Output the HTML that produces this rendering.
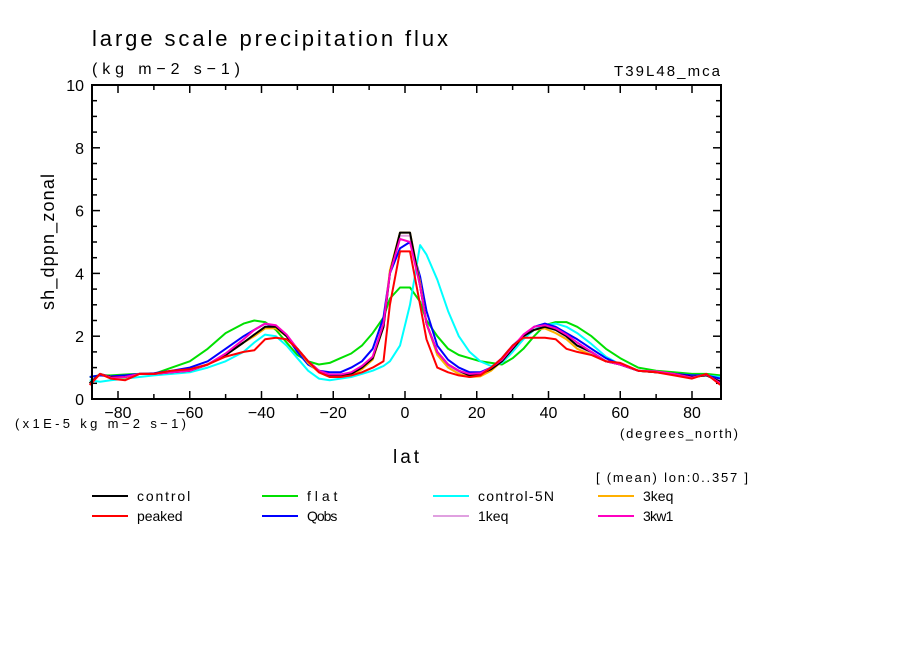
<!DOCTYPE html>
<html><head><meta charset="utf-8"><style>
body{margin:0;background:#fff;}
svg text{font-family:"Liberation Sans",sans-serif;fill:#000;}
</style></head><body>
<svg id="c" width="904" height="654" xmlns="http://www.w3.org/2000/svg">
<rect width="904" height="654" fill="#fff"/>
<text x="92" y="46" font-size="22" textLength="356" lengthAdjust="spacing">large scale precipitation flux</text>
<text x="92" y="74" font-size="16" textLength="148" lengthAdjust="spacing">(kg m−2 s−1)</text>
<text x="614" y="76" font-size="15" textLength="106" lengthAdjust="spacing">T39L48_mca</text>
<text x="15" y="428" font-size="13" textLength="171" lengthAdjust="spacing">(x1E-5 kg m−2 s−1)</text>
<text x="620" y="438" font-size="13" textLength="118" lengthAdjust="spacing">(degrees_north)</text>
<text x="393" y="463" font-size="19" textLength="26" lengthAdjust="spacing">lat</text>
<text transform="translate(54,242) rotate(-90)" font-size="18" text-anchor="middle" textLength="136" lengthAdjust="spacing">sh_dppn_zonal</text>
<text x="596" y="482" font-size="13" textLength="152" lengthAdjust="spacing">[ (mean) lon:0..357 ]</text>
<g id="axes"></g>
<g id="series"></g>
<g id="legend"></g>
<rect x="92" y="85" width="629" height="314" fill="none" stroke="#000" stroke-width="2"/>
</svg>
<script>
const lats=[-87.9,-85,-82,-78,-74,-70,-65,-60,-55,-50,-45,-42,-39,-36,-33,-30,-27,-24,-21,-18,-15,-12,-9,-6,-4.2,-1.4,1.4,4.2,6,9,12,15,18,21,24,27,30,33,36,39,42,45,48,52,56,60,65,70,75,80,84,87.9];
const seriesNames=["control","flat","control-5N","3keq","peaked","Qobs","1keq","3kw1"];
const seriesColors=["#000000","#00e000","#00ffff","#ffb000","#ff0000","#0000ff","#e0a0e0","#ff00c0"];
const control=[0.5,0.8,0.7,0.7,0.8,0.8,0.85,0.9,1.1,1.4,1.8,2.05,2.3,2.3,2.0,1.6,1.2,0.9,0.75,0.75,0.8,1.0,1.3,2.3,4.0,5.3,5.3,3.6,2.4,1.5,1.1,0.9,0.75,0.8,0.95,1.2,1.6,2.0,2.2,2.3,2.2,2.0,1.7,1.5,1.2,1.1,0.9,0.85,0.8,0.7,0.75,0.55];
const flat=[0.7,0.75,0.75,0.78,0.8,0.8,1.0,1.2,1.6,2.1,2.4,2.5,2.45,2.2,1.8,1.4,1.2,1.1,1.15,1.3,1.45,1.7,2.1,2.6,3.2,3.55,3.55,3.1,2.5,2.0,1.6,1.4,1.3,1.2,1.15,1.1,1.3,1.6,2.0,2.35,2.45,2.45,2.3,2.0,1.6,1.3,1.0,0.9,0.85,0.8,0.8,0.75];
const control5N=[0.6,0.55,0.6,0.65,0.7,0.75,0.8,0.85,1.0,1.2,1.5,1.8,2.05,2.0,1.7,1.3,0.9,0.65,0.6,0.65,0.7,0.8,0.9,1.05,1.2,1.7,3.0,4.9,4.6,3.8,2.8,2.0,1.5,1.2,1.05,1.15,1.5,1.9,2.2,2.35,2.4,2.3,2.1,1.75,1.35,1.1,0.9,0.85,0.8,0.75,0.75,0.7];
const keq3=[0.5,0.8,0.7,0.68,0.8,0.8,0.85,0.9,1.1,1.4,1.8,2.0,2.25,2.25,2.0,1.6,1.15,0.85,0.7,0.7,0.75,0.95,1.25,2.3,4.1,5.3,5.3,3.7,2.4,1.4,1.0,0.8,0.7,0.72,0.9,1.2,1.6,2.0,2.2,2.25,2.1,1.9,1.6,1.4,1.2,1.1,0.9,0.85,0.78,0.7,0.75,0.55];
const peaked=[0.45,0.8,0.65,0.6,0.8,0.8,0.9,0.95,1.1,1.35,1.5,1.55,1.9,1.95,1.9,1.6,1.2,0.85,0.7,0.7,0.75,0.85,1.0,1.2,3.0,4.7,4.7,3.0,1.9,1.0,0.85,0.75,0.7,0.75,1.0,1.3,1.7,1.95,1.95,1.95,1.9,1.6,1.5,1.4,1.2,1.15,0.9,0.85,0.75,0.65,0.8,0.45];
const qobs=[0.7,0.75,0.72,0.75,0.8,0.82,0.9,1.0,1.2,1.6,2.0,2.2,2.4,2.3,2.0,1.5,1.1,0.9,0.85,0.85,1.0,1.2,1.6,2.6,4.0,4.8,5.0,3.9,2.8,1.7,1.25,1.0,0.85,0.85,1.0,1.3,1.7,2.0,2.3,2.4,2.3,2.1,1.9,1.6,1.3,1.1,0.9,0.85,0.8,0.75,0.75,0.65];
const keq1=[0.5,0.8,0.7,0.7,0.8,0.8,0.85,0.9,1.1,1.4,1.8,2.05,2.3,2.3,2.0,1.6,1.2,0.88,0.75,0.75,0.8,1.0,1.3,2.3,4.0,5.2,5.2,3.6,2.4,1.45,1.05,0.85,0.72,0.78,0.95,1.2,1.6,2.0,2.2,2.3,2.2,1.95,1.7,1.45,1.2,1.1,0.9,0.85,0.78,0.7,0.75,0.55];
const kw1=[0.45,0.8,0.68,0.7,0.8,0.8,0.85,0.9,1.1,1.45,1.9,2.2,2.4,2.35,2.05,1.6,1.2,0.9,0.78,0.78,0.85,1.05,1.35,2.4,4.0,5.1,5.0,3.6,2.4,1.5,1.1,0.9,0.8,0.82,1.0,1.25,1.65,2.05,2.3,2.35,2.25,2.05,1.8,1.5,1.2,1.1,0.9,0.88,0.8,0.68,0.78,0.5];
const xTicks=[-80,-60,-40,-20,0,20,40,60,80];
const yTicks=[0,2,4,6,8,10];
const NS="http://www.w3.org/2000/svg";
const X=v=>405+v*3.5875, Y=v=>399-v*31.4;
function mk(t,a,p){const e=document.createElementNS(NS,t);for(const k in a)e.setAttribute(k,a[k]);(p).appendChild(e);return e;}
const ax=document.getElementById('axes');
for(let v=0;v<=10.001;v+=0.5){const maj=Math.abs(v/2-Math.round(v/2))<1e-6;const L=maj?8:5;
 const l=mk('line',{x1:92,x2:92+L,y1:Y(v),y2:Y(v),stroke:'#000','stroke-width':1.5},ax);
 
 
 const r=mk('line',{x1:721,x2:721-L,y1:Y(v),y2:Y(v),stroke:'#000','stroke-width':1.5},ax);
 
 }
yTicks.forEach(v=>{const t=mk('text',{x:84,y:Y(v)+6,'font-size':16,'text-anchor':'end'},ax);t.textContent=v;
 
 });
for(let v=-80;v<=80;v+=10){const maj=v%20===0;const L=maj?8:5;
 const l=mk('line',{x1:X(v),x2:X(v),y1:399,y2:399-L,stroke:'#000','stroke-width':1.5},ax);
 
 
 const u=mk('line',{x1:X(v),x2:X(v),y1:85,y2:85+L,stroke:'#000','stroke-width':1.5},ax);
 
 }
xTicks.forEach(v=>{const t=mk('text',{x:X(v),y:418,'font-size':16,'text-anchor':'middle'},ax);t.textContent=(v<0?'−':'')+Math.abs(v);
 
 });
const sg=document.getElementById('series');
const drawOrder=[1,2,5,6,3,0,7,4];
const allVals=[control,flat,control5N,keq3,peaked,qobs,keq1,kw1];
drawOrder.forEach(i=>{const vals=allVals[i];
 const p=mk('polyline',{points:lats.map((la,j)=>X(la).toFixed(1)+','+Y(vals[j]).toFixed(1)).join(' '),fill:'none',stroke:seriesColors[i],'stroke-width':2,'stroke-linejoin':'round'},sg);
 
 });
const lg=document.getElementById('legend');
const lx=[92,262,433,598];
seriesNames.forEach((n,i)=>{const row=i<4?0:1,col=i%4;const y=row?516:496;
 const l=mk('line',{x1:lx[col],x2:lx[col]+36,y1:y,y2:y,stroke:seriesColors[i],'stroke-width':2},lg);
 
 
 const t=mk('text',{x:lx[col]+45,y:y+5,'font-size':14,textLength:n.length*7.6,lengthAdjust:'spacing'},lg);t.textContent=n;
 
 });
</script>
</body></html>
